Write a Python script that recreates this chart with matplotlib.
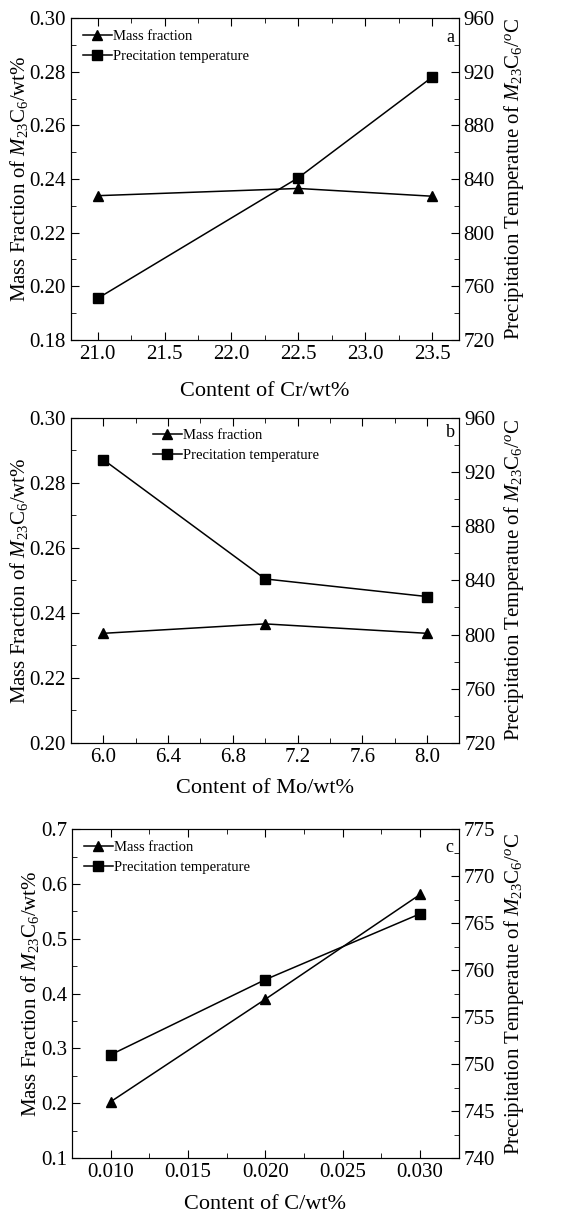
import matplotlib
matplotlib.use('Agg')
import matplotlib.pyplot as plt
from matplotlib.ticker import MultipleLocator, AutoMinorLocator

plt.rcParams['font.family'] = ['Liberation Serif', 'DejaVu Serif']
plt.rcParams['mathtext.fontset'] = 'custom'
plt.rcParams['mathtext.rm'] = 'Liberation Serif'
plt.rcParams['mathtext.it'] = 'Liberation Serif:italic'

# Datos de los tres paneles
cr_content = [21.0, 22.5, 23.5]
cr_mass = [0.2338, 0.2365, 0.2336]
cr_temp = [751, 841, 916]

mo_content = [6.0, 7.0, 8.0]
mo_mass = [0.2337, 0.2366, 0.2337]
mo_temp = [929, 841, 828]

c_content = [0.010, 0.020, 0.030]
c_mass = [0.203, 0.390, 0.581]
c_temp = [751, 759, 766]

panels = [
    dict(x=cr_content, m=cr_mass, t=cr_temp, xlabel='Content of Cr/wt%', tag='a',
         xlim=(20.8, 23.7), xstep=0.5, xfmt='%.1f', ylim=(0.18, 0.30), ystep=0.02, yfmt='%.2f',
         tlim=(720, 960), tstep=40, rect=[0.126, 0.720, 0.689, 0.265],
         leg=(0.0, 1.0), tagpos=(0.977, 0.94), labelpad=13),
    dict(x=mo_content, m=mo_mass, t=mo_temp, xlabel='Content of Mo/wt%', tag='b',
         xlim=(5.8, 8.2), xstep=0.4, xfmt='%.1f', ylim=(0.20, 0.30), ystep=0.02, yfmt='%.2f',
         tlim=(720, 960), tstep=40, rect=[0.126, 0.388, 0.690, 0.268],
         leg=(0.18, 1.0), tagpos=(0.977, 0.955), labelpad=9),
    dict(x=c_content, m=c_mass, t=c_temp, xlabel='Content of C/wt%', tag='c',
         xlim=(0.0075, 0.0325), xstep=0.005, xfmt='%.3f', ylim=(0.1, 0.7), ystep=0.1, yfmt='%.1f',
         tlim=(740, 775), tstep=5, rect=[0.128, 0.046, 0.687, 0.271],
         leg=(0.0, 1.0), tagpos=(0.975, 0.945), labelpad=9),
]

fig = plt.figure(figsize=(5.63, 12.14), dpi=100)

for p in panels:
    ax = fig.add_axes(p['rect'])
    ax2 = ax.twinx()
    l1, = ax.plot(p['x'], p['m'], color='black', marker='^', markersize=6.5, lw=1.1,
                  label='Mass fraction')
    l2, = ax2.plot(p['x'], p['t'], color='black', marker='s', markersize=6.5, lw=1.1,
                   label='Precitation temperature')
    ax.set_xlim(*p['xlim'])
    ax.set_ylim(*p['ylim'])
    ax2.set_ylim(*p['tlim'])
    ax.xaxis.set_major_locator(MultipleLocator(p['xstep']))
    ax.xaxis.set_minor_locator(AutoMinorLocator(2))
    ax.yaxis.set_major_locator(MultipleLocator(p['ystep']))
    ax.yaxis.set_minor_locator(AutoMinorLocator(2))
    ax2.yaxis.set_major_locator(MultipleLocator(p['tstep']))
    ax2.yaxis.set_minor_locator(AutoMinorLocator(2))
    ax.xaxis.set_major_formatter(plt.FormatStrFormatter(p['xfmt']))
    ax.yaxis.set_major_formatter(plt.FormatStrFormatter(p['yfmt']))
    ax.tick_params(which='both', direction='in', top=True, right=False, labelsize=15)
    ax.tick_params(which='major', length=6)
    ax.tick_params(which='minor', length=3.5)
    ax2.tick_params(which='both', direction='in', labelsize=15)
    ax2.tick_params(which='major', length=6)
    ax2.tick_params(which='minor', length=3.5)
    ax.set_xlabel(p['xlabel'], fontsize=16, labelpad=p['labelpad'])
    ax.set_ylabel('Mass Fraction of $M_{23}$C$_6$/wt%', fontsize=15, labelpad=0)
    ax2.set_ylabel('Precipitation Temperatue of $M_{23}$C$_6$/$^o$C', fontsize=15, labelpad=5)
    ax.legend(handles=[l1, l2], loc='upper left', bbox_to_anchor=p['leg'], frameon=False,
              fontsize=10.5, handlelength=2.0, handletextpad=0.1, labelspacing=0.45,
              borderaxespad=0.4)
    ax.text(p['tagpos'][0], p['tagpos'][1], p['tag'], transform=ax.transAxes,
            fontsize=13, ha='center', va='center')

plt.savefig('out.png', dpi=100)
